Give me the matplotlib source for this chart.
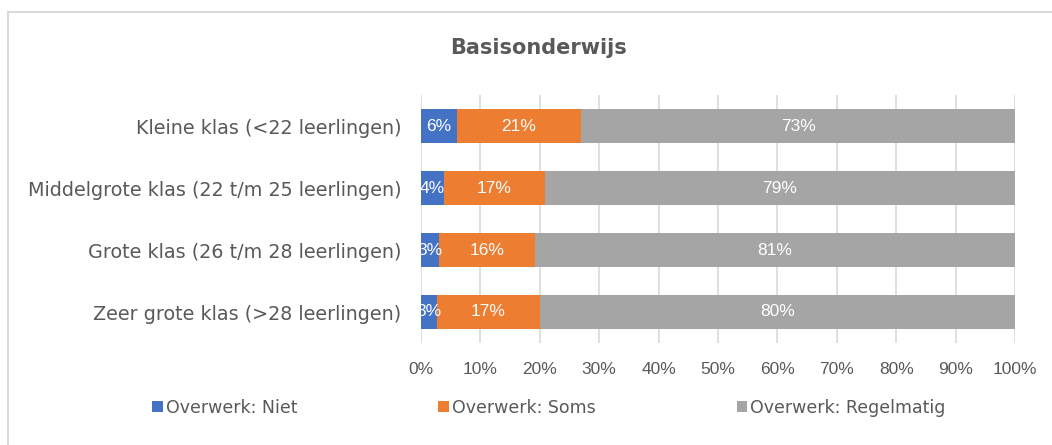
import matplotlib.pyplot as plt
import matplotlib.patches as mpatches
import numpy as np

categories = ["Kleine klas (<22 leerlingen)",
              "Middelgrote klas (22 t/m 25 leerlingen)",
              "Grote klas (26 t/m 28 leerlingen)",
              "Zeer grote klas (>28 leerlingen)"]
niet = [6.0, 3.9, 3.0, 2.7]
soms = [21.0, 16.9, 16.2, 17.3]
regelmatig = [73.0, 79.2, 80.8, 80.0]
series_names = ["Overwerk: Niet", "Overwerk: Soms", "Overwerk: Regelmatig"]
colors = ["#4472C4", "#ED7D31", "#A5A5A5"]
xticks = list(range(0, 101, 10))

text_color = "#595959"
plt.rcParams['font.family'] = ['DejaVu Sans']

fig = plt.figure(figsize=(10.52, 4.45), dpi=100)
ax = fig.add_axes([421 / 1052, 1 - 343 / 445, 594 / 1052, 248 / 445])

# chart border (only left/top visible in reference)
fig.patches.append(mpatches.Rectangle((8 / 1052, -0.1), 1.2, 1 - 12 / 445 + 0.1,
                                      transform=fig.transFigure, fill=False,
                                      edgecolor="#D9D9D9", linewidth=1.5))

y = np.arange(len(categories))
left = np.zeros(len(categories))
for vals, name, col in zip([niet, soms, regelmatig], series_names, colors):
    vals = np.array(vals)
    bars = ax.barh(y, vals, left=left, height=0.55, color=col, label=name, zorder=3)
    for b, v in zip(bars, vals):
        ax.text(b.get_x() + b.get_width() / 2, b.get_y() + b.get_height() / 2,
                f"{v:.0f}%", ha="center", va="center", color="white",
                fontsize=12.5, family="Liberation Sans", zorder=4)
    left += vals

ax.set_xlim(0, 100)
ax.set_ylim(3.5, -0.5)
ax.set_yticks(y)
ax.set_yticklabels(categories, fontsize=13.8, color=text_color)
ax.set_xticks(xticks)
ax.set_xticklabels([f"{t}%" for t in xticks], fontsize=12.5, color=text_color,
                   family="Liberation Sans")
ax.tick_params(axis="y", length=0, pad=14)
ax.tick_params(axis="x", length=0, pad=14)
ax.grid(axis="x", color="#D9D9D9", linewidth=1.2, zorder=0)
for s in ax.spines.values():
    s.set_visible(False)

fig.text(538 / 1052, 1 - 48 / 445, "Basisonderwijs", ha="center", va="center",
         fontsize=15, fontweight="bold", color=text_color)

ax.legend(loc="center", bbox_to_anchor=(549 / 1052, 1 - 408 / 445),
          bbox_transform=fig.transFigure, ncol=3, frameon=False,
          handlelength=0.6, handleheight=0.6, handletextpad=0.2,
          columnspacing=8.1, labelcolor=text_color, fontsize=12.5)

fig.savefig("out.png", dpi=100)
